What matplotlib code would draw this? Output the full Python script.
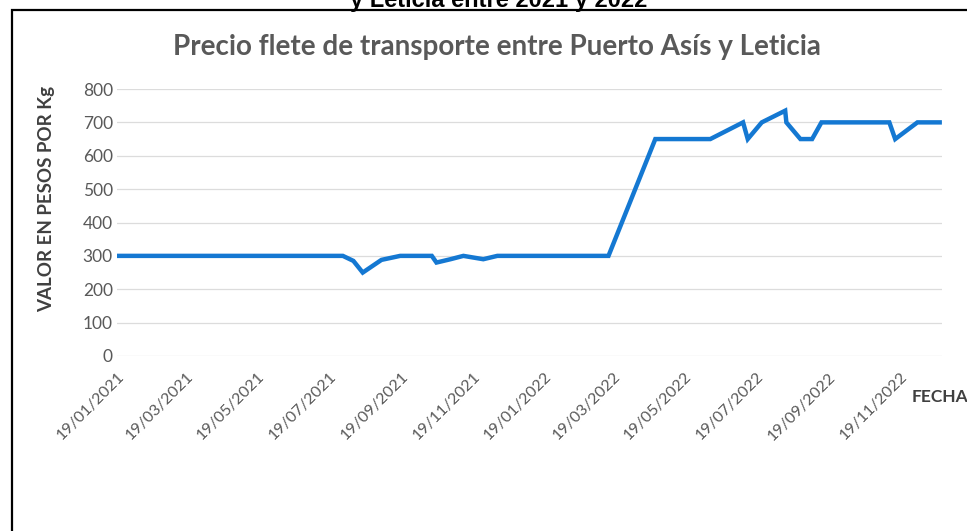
import datetime as dt
import matplotlib.pyplot as plt
import matplotlib.dates as mdates
from matplotlib.patches import Rectangle

fechas = [
    "2021-01-19", "2021-07-31", "2021-08-09", "2021-08-17", "2021-09-02",
    "2021-09-18", "2021-10-15", "2021-10-19", "2021-10-31", "2021-11-11",
    "2021-11-28", "2021-12-10", "2022-03-15", "2022-04-24", "2022-06-10",
    "2022-07-08", "2022-07-12", "2022-07-24", "2022-08-13", "2022-08-14",
    "2022-08-26", "2022-09-05", "2022-09-13", "2022-11-10", "2022-11-15",
    "2022-12-04", "2022-12-23",
]
precios = [
    300, 300, 285, 250, 288,
    300, 300, 280, 290, 300,
    290, 300, 300, 650, 650,
    700, 650, 700, 735, 700,
    650, 650, 700, 700, 650,
    700, 700,
]

x = [dt.datetime.strptime(f, "%Y-%m-%d") for f in fechas]

W, H = 967, 531
fig = plt.figure(figsize=(W / 100, H / 100), dpi=100)

# scanned page border
fig.patches.append(Rectangle((12 / W, -0.05), 1.1, 1 - 10 / H + 0.05,
                             transform=fig.transFigure, fill=False,
                             edgecolor='black', lw=1.6))

fig.text(499 / W, 1 - 7 / H, "y Leticia entre 2021 y 2022", ha='center',
         va='baseline', fontsize=17, fontweight='bold', family='Liberation Sans')
fig.text(497 / W, 1 - 47 / H, "Precio flete de transporte entre Puerto Asís y Leticia",
         ha='center', va='center', fontsize=20, fontweight='bold',
         color='#595959', family='Lato')

ax = fig.add_axes([117 / W, 1 - 356 / H, (942 - 117) / W, (356 - 89) / H])
ax.plot(x, precios, color='#1478d2', lw=3.2, solid_joinstyle='miter')

ax.set_ylim(0, 800)
ax.set_yticks(range(0, 801, 100))
ax.set_xlim(dt.datetime(2021, 1, 19), dt.datetime(2022, 12, 25))
ax.xaxis.set_major_locator(mdates.MonthLocator(bymonth=[1, 3, 5, 7, 9, 11], bymonthday=19))
ax.xaxis.set_major_formatter(mdates.DateFormatter('%d/%m/%Y'))

ax.grid(axis='y', color='#dcdcdc', lw=0.9)
ax.set_axisbelow(True)
for s in ax.spines.values():
    s.set_visible(False)
ax.tick_params(length=0, colors='#595959')
ax.tick_params(axis='y', labelsize=12.5, pad=3)
ax.tick_params(axis='x', labelsize=11.5, pad=10)
for lab in ax.get_xticklabels():
    lab.set_rotation(45)
    lab.set_ha('right')
    lab.set_rotation_mode('anchor')
    lab.set_family('Lato')
for lab in ax.get_yticklabels():
    lab.set_family('Lato')

fig.text(47 / W, 1 - 199 / H, "VALOR EN PESOS POR Kg", rotation=90, ha='center',
         va='center', fontsize=13.5, fontweight='bold', color='#404040', family='Lato')
fig.text(912 / W, 1 - 397 / H, "FECHA", ha='left', va='center', fontsize=12.5,
         fontweight='bold', color='#404040', family='Lato')

fig.savefig("out.png", dpi=100)
